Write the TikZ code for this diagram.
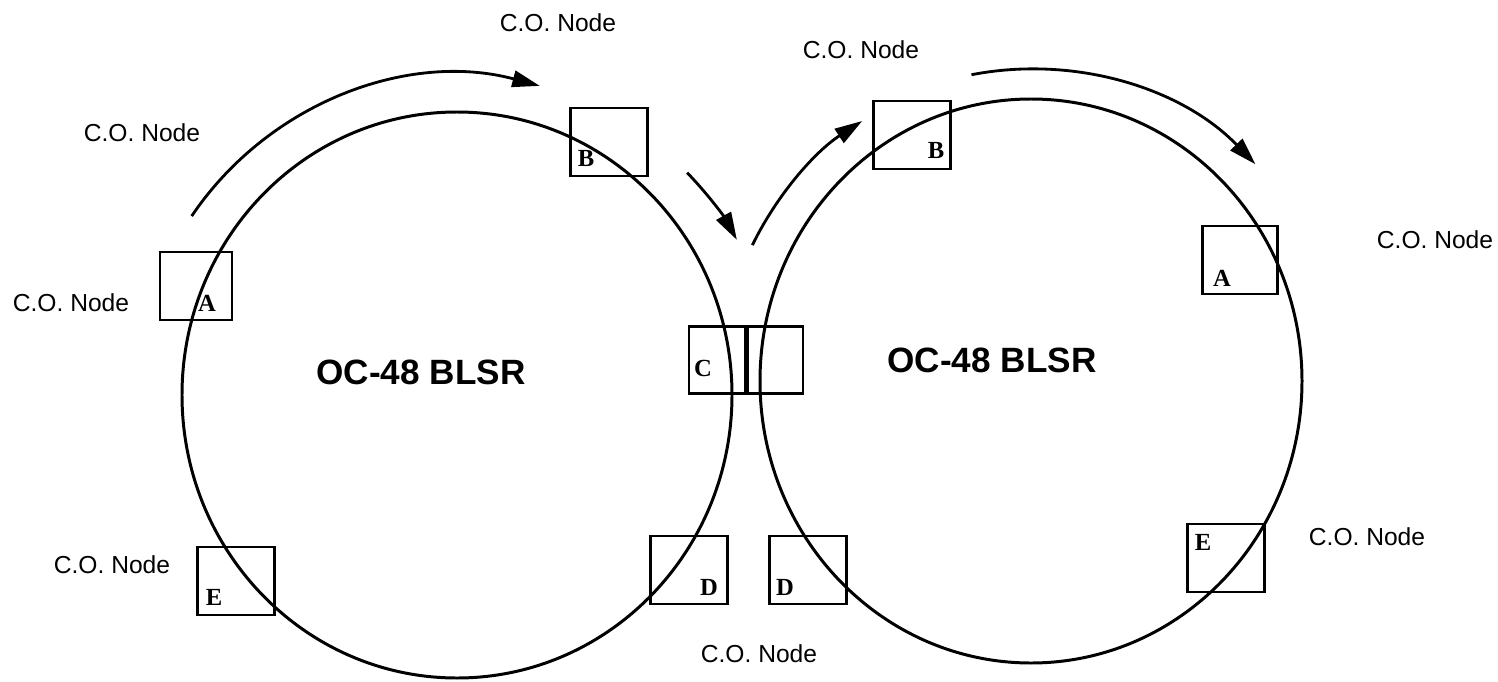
\documentclass[tikz,border=0pt]{standalone}
\usepackage{amsmath}
\usepackage{amssymb}
\usepackage{tikz}
\usepackage{xcolor}
\usepackage{fontspec}
\setmainfont{Liberation Sans}
\newfontfamily\tagfont{Liberation Serif}
\usetikzlibrary{arrows.meta}

\begin{document}
\begin{tikzpicture}[x=0.2mm,y=0.2mm,
  ring/.style={line width=1.7pt},
  flow/.style={line width=1.6pt,-{Triangle[length=5.5mm,width=3.3mm]}},
  nodebox/.style={draw,line width=1.4pt,minimum width=15.4mm,minimum height=13.6mm,inner sep=0pt},
  tag/.style={inner sep=0pt,font=\tagfont\bfseries\fontsize{14}{16}\selectfont},
  co/.style={inner sep=1pt,font=\fontsize{14}{16}\selectfont},
  ringname/.style={inner sep=1pt,font=\bfseries\fontsize{20}{24}\selectfont}]
\useasboundingbox (0,0) rectangle (1498,-682);
\coordinate (lring) at (457,-395);
\coordinate (rring) at (1031,-381);
\draw[ring] (lring) ellipse[x radius=275,y radius=283];
\draw[ring] (rring) ellipse[x radius=271,y radius=282];
\draw[flow] ([shift={(146:320)}]lring) arc[start angle=146,end angle=75,radius=320];
\draw[flow] ([shift={(44:320)}]lring) arc[start angle=44,end angle=29,radius=320];
\draw[flow] ([shift={(154:310)}]rring) arc[start angle=154,end angle=123,radius=310];
\draw[flow] ([shift={(101:312)}]rring) arc[start angle=101,end angle=44,radius=312];
\node[nodebox,minimum width=14.4mm] (lA) at (196,-286) {};
\node[nodebox] (lB) at (609,-142) {};
\node[nodebox,minimum width=22.8mm,minimum height=13.4mm] (C) at (746,-360) {};
\draw[line width=1mm] (C.north) -- (C.south);
\node[nodebox] (lD) at (689,-570) {};
\node[nodebox] (rD) at (808,-570) {};
\node[nodebox] (lE) at (236,-581) {};
\node[nodebox] (rE) at (1226,-558) {};
\node[nodebox,minimum width=15mm] (rA) at (1240,-260) {};
\node[nodebox] (rB) at (912,-135) {};
\node[tag] at (207,-303) {A};
\node[tag] at (586,-158) {B};
\node[tag] at (703,-368) {C};
\node[tag] at (709,-587) {D};
\node[tag] at (785,-587) {D};
\node[tag] at (214,-597) {E};
\node[tag] at (1203,-542) {E};
\node[tag] at (1222,-278) {A};
\node[tag] at (936,-150) {B};
\node[co] (co1) at (558,-23) {C.O. Node};
\node[co] (co2) at (142,-133) {C.O. Node};
\node[co] (co3) at (71,-303) {C.O. Node};
\node[co] (co4) at (861,-50) {C.O. Node};
\node[co] (co5) at (1435,-240) {C.O. Node};
\node[co] (co6) at (112,-565) {C.O. Node};
\node[co] (co7) at (1367,-537) {C.O. Node};
\node[co] (co8) at (759,-654) {C.O. Node};
\node[ringname] (lname) at (421,-372) {OC-48 BLSR};
\node[ringname] (rname) at (992,-360) {OC-48 BLSR};
\end{tikzpicture}
\end{document}
